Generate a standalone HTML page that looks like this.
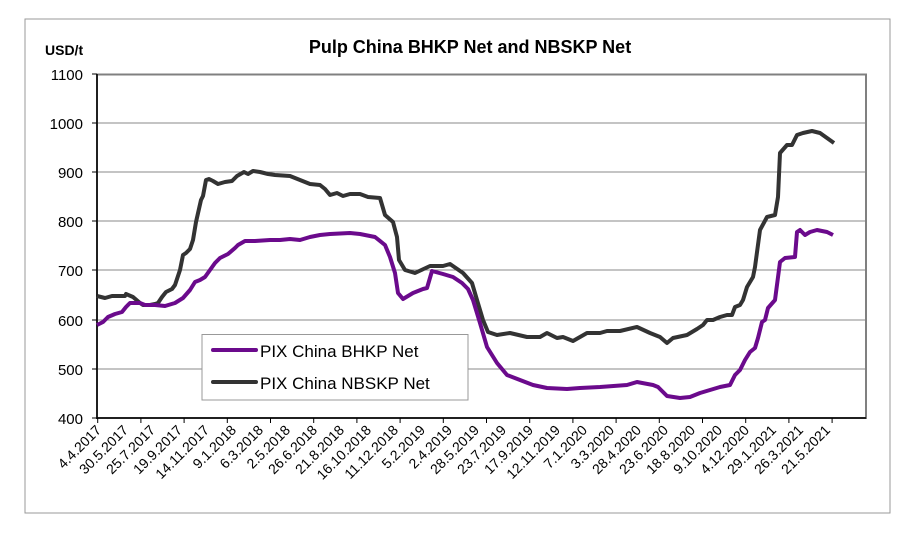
<!DOCTYPE html>
<html><head><meta charset="utf-8"><style>
html,body{margin:0;padding:0;background:#fff;}
svg{display:block;font-family:"Liberation Sans",Arial,sans-serif;}
</style></head><body>
<svg width="904" height="551" viewBox="0 0 904 551" xmlns="http://www.w3.org/2000/svg">
<rect x="25" y="19" width="865" height="494" fill="#fff" stroke="#999" stroke-width="1"/>
<text x="470" y="53" text-anchor="middle" font-size="18" font-weight="bold">Pulp China BHKP Net and NBSKP Net</text>
<text x="45" y="55" font-size="14" font-weight="bold">USD/t</text>
<g stroke="#888" stroke-width="1">
<line x1="97" y1="123" x2="866" y2="123"/><line x1="97" y1="172" x2="866" y2="172"/>
<line x1="97" y1="221" x2="866" y2="221"/><line x1="97" y1="270" x2="866" y2="270"/>
<line x1="97" y1="320" x2="866" y2="320"/><line x1="97" y1="369" x2="866" y2="369"/>
</g>
<rect x="97" y="74.5" width="769" height="343.5" fill="none" stroke="#808080" stroke-width="2"/>
<line x1="97" y1="74" x2="97" y2="419" stroke="#000" stroke-width="1.5"/>
<line x1="97" y1="418" x2="866" y2="418" stroke="#000" stroke-width="1.5"/>
<g stroke="#000" stroke-width="1">
<line x1="92" y1="74" x2="97" y2="74"/><line x1="92" y1="123" x2="97" y2="123"/><line x1="92" y1="172" x2="97" y2="172"/><line x1="92" y1="221" x2="97" y2="221"/><line x1="92" y1="270" x2="97" y2="270"/><line x1="92" y1="320" x2="97" y2="320"/><line x1="92" y1="369" x2="97" y2="369"/><line x1="92" y1="418" x2="97" y2="418"/>
<line x1="97.7" y1="418" x2="97.7" y2="423"/><line x1="140.9" y1="418" x2="140.9" y2="423"/><line x1="184.1" y1="418" x2="184.1" y2="423"/><line x1="227.3" y1="418" x2="227.3" y2="423"/><line x1="270.5" y1="418" x2="270.5" y2="423"/><line x1="313.7" y1="418" x2="313.7" y2="423"/><line x1="356.9" y1="418" x2="356.9" y2="423"/><line x1="400.1" y1="418" x2="400.1" y2="423"/><line x1="443.3" y1="418" x2="443.3" y2="423"/><line x1="486.5" y1="418" x2="486.5" y2="423"/><line x1="529.7" y1="418" x2="529.7" y2="423"/><line x1="572.9" y1="418" x2="572.9" y2="423"/><line x1="616.1" y1="418" x2="616.1" y2="423"/><line x1="659.3" y1="418" x2="659.3" y2="423"/><line x1="702.5" y1="418" x2="702.5" y2="423"/><line x1="745.7" y1="418" x2="745.7" y2="423"/><line x1="788.9" y1="418" x2="788.9" y2="423"/><line x1="832.1" y1="418" x2="832.1" y2="423"/>
</g>
<g font-size="15" text-anchor="end">
<text x="83" y="80">1100</text><text x="83" y="129">1000</text><text x="83" y="178">900</text><text x="83" y="227">800</text><text x="83" y="276">700</text><text x="83" y="326">600</text><text x="83" y="375">500</text><text x="83" y="424">400</text>
</g>
<g font-size="14" text-anchor="end">
<text transform="translate(102,431) rotate(-45)">4.4.2017</text>
<text transform="translate(129,431) rotate(-45)">30.5.2017</text>
<text transform="translate(156,431) rotate(-45)">25.7.2017</text>
<text transform="translate(183,431) rotate(-45)">19.9.2017</text>
<text transform="translate(210,431) rotate(-45)">14.11.2017</text>
<text transform="translate(237,431) rotate(-45)">9.1.2018</text>
<text transform="translate(264,431) rotate(-45)">6.3.2018</text>
<text transform="translate(291,431) rotate(-45)">2.5.2018</text>
<text transform="translate(318,431) rotate(-45)">26.6.2018</text>
<text transform="translate(345,431) rotate(-45)">21.8.2018</text>
<text transform="translate(372,431) rotate(-45)">16.10.2018</text>
<text transform="translate(399,431) rotate(-45)">11.12.2018</text>
<text transform="translate(426,431) rotate(-45)">5.2.2019</text>
<text transform="translate(453,431) rotate(-45)">2.4.2019</text>
<text transform="translate(480,431) rotate(-45)">28.5.2019</text>
<text transform="translate(507,431) rotate(-45)">23.7.2019</text>
<text transform="translate(534,431) rotate(-45)">17.9.2019</text>
<text transform="translate(561,431) rotate(-45)">12.11.2019</text>
<text transform="translate(588,431) rotate(-45)">7.1.2020</text>
<text transform="translate(615,431) rotate(-45)">3.3.2020</text>
<text transform="translate(642,431) rotate(-45)">28.4.2020</text>
<text transform="translate(669,431) rotate(-45)">23.6.2020</text>
<text transform="translate(696,431) rotate(-45)">18.8.2020</text>
<text transform="translate(723,431) rotate(-45)">9.10.2020</text>
<text transform="translate(750,431) rotate(-45)">4.12.2020</text>
<text transform="translate(777,431) rotate(-45)">29.1.2021</text>
<text transform="translate(804,431) rotate(-45)">26.3.2021</text>
<text transform="translate(831,431) rotate(-45)">21.5.2021</text>
</g>
<polyline fill="none" stroke="#333" stroke-width="4" stroke-linejoin="round" points="97,296 105,298 112,296 125,296 126,294 133,297 140,303 143,305 150,305 155,304 158,303 162,297 166,292 172,289 175,285 180,270 183,255 186,253 190,249 193,240 196,222 201,200 203,196 206,180 209,179 213,181 218,184 225,182 232,181 237,176 244,172 248,174 253,171 260,172 268,174 275,175 290,176 300,180 310,184 320,185 325,189 330,195 337,193 343,196 350,194 360,194 368,197 380,198 385,215 393,222 397,237 399,260 405,270 415,273 430,266 443,266 450,264 463,273 472,283 477,300 483,320 488,332 497,335 510,333 527,337 540,337 547,333 557,338 563,337 573,341 587,333 600,333 607,331 620,331 637,327 650,333 660,337 667,343 673,338 687,335 697,329 703,325 707,320 713,320 720,317 727,315 732,315 735,307 740,305 743,300 747,287 753,277 755,267 760,230 767,217 775,215 778,197 780,153 787,145 792,145 797,135 803,133 812,131 820,133 827,138 834,143"/>
<polyline fill="none" stroke="#6b0a8c" stroke-width="4" stroke-linejoin="round" points="97,325 103,322 108,317 115,314 122,312 126,307 130,303 140,303 145,305 155,305 165,306 175,303 183,298 190,290 195,282 200,280 205,277 210,270 215,263 220,258 228,254 235,248 238,245 245,241 255,241 270,240 280,240 290,239 300,240 310,237 320,235 330,234 350,233 360,234 375,237 385,245 390,257 395,273 398,293 403,299 413,293 423,289 427,288 432,271 443,274 453,277 462,283 468,289 473,300 480,323 487,347 497,363 507,375 520,380 533,385 547,388 567,389 580,388 600,387 627,385 637,382 653,385 658,387 667,396 680,398 690,397 700,393 710,390 720,387 730,385 735,375 740,370 745,360 750,352 755,348 758,338 762,322 765,320 768,308 775,300 780,262 785,258 795,257 797,232 800,230 805,235 810,232 817,230 827,232 833,235"/>
<rect x="202" y="334.5" width="266" height="65.5" fill="#fff" stroke="#999" stroke-width="1"/>
<line x1="213" y1="350" x2="256" y2="350" stroke="#6b0a8c" stroke-width="4" stroke-linecap="round"/>
<line x1="213" y1="382" x2="256" y2="382" stroke="#333" stroke-width="4" stroke-linecap="round"/>
<text x="260" y="357" font-size="17">PIX China BHKP Net</text>
<text x="260" y="389" font-size="17">PIX China NBSKP Net</text>
</svg>
</body></html>
